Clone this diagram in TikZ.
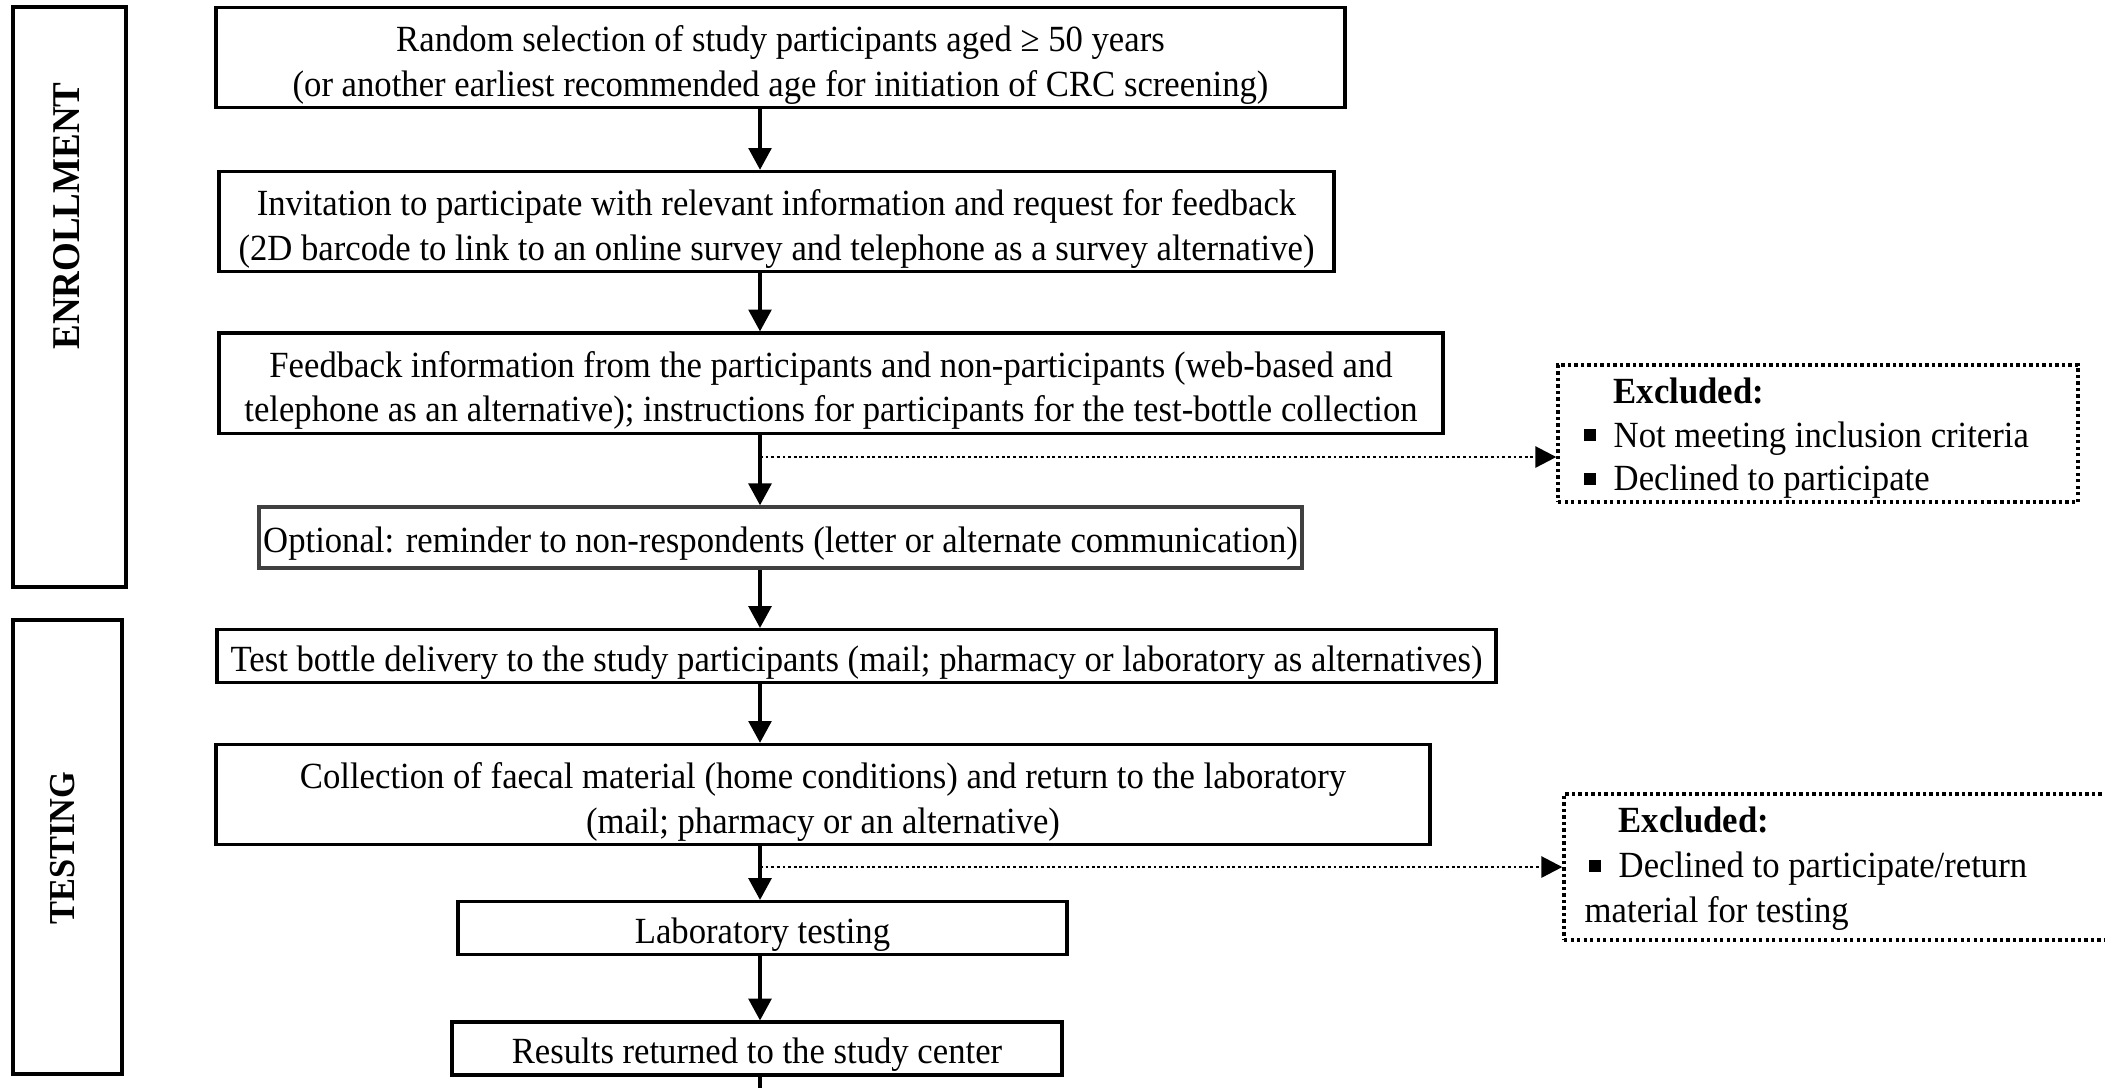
\documentclass[tikz,border=0pt]{standalone}
\usepackage{fontspec}
\setmainfont{Liberation Serif}[FakeStretch=0.94]
\usetikzlibrary{arrows.meta}

\newcommand{\exbul}{\makebox[0.30cm][l]{\raisebox{1.6pt}{\rule{3.4pt}{3.4pt}}}}
\newcommand{\topstrut}{\rule{0pt}{0.41cm}}

\tikzset{
  stepbox/.style={draw, line width=0.9pt, align=center, inner sep=1pt, font=\fontsize{10.5}{12.6}\selectfont,
    execute at begin node={\rule{0pt}{0.38cm}}},
  phasebox/.style={draw, line width=1.1pt},
  phaselabel/.style={rotate=90, font=\fontsize{11}{13}\selectfont\bfseries},
  exclbox/.style={draw, line width=0.95pt, dash pattern=on 0.95pt off 0.9pt},
  excltext/.style={anchor=north west, inner sep=0pt, align=flush left, font=\fontsize{10.5}{12.3}\selectfont},
  arr/.style={-{Triangle[length=6.2pt,width=6.5pt]}, line width=0.9pt},
  darr/.style={dash pattern=on 0.8pt off 0.8pt, line width=0.8pt, -{Triangle[length=6pt,width=6pt]}}
}

\begin{document}
\begin{tikzpicture}
    \clip (0,0) rectangle (21.05,-10.87);

    % Phase boxes on the left
    \node[phasebox, minimum width=1.13cm, minimum height=5.80cm] (enr) at (0.695,-2.97) {};
    \node[phasebox, minimum width=1.09cm, minimum height=4.54cm] (tst) at (0.675,-8.47) {};
    \node[phaselabel, font=\fontsize{11.2}{13}\selectfont\bfseries] (enrlab) at (0.67,-2.16) {ENROLLMENT};
    \node[phaselabel, font=\fontsize{10.4}{13}\selectfont\bfseries] (tstlab) at (0.63,-8.48) {TESTING};

    % Main steps
    \node[stepbox, minimum width=11.29cm, minimum height=0.99cm] (rand) at (7.805,-0.575)
        {\topstrut Random selection of study participants aged ≥ 50 years\\ (or another earliest recommended age for initiation of CRC screening)};
    \node[stepbox, minimum width=11.15cm, minimum height=0.97cm] (invit) at (7.765,-2.215)
        {\topstrut Invitation to participate with relevant information and request for feedback\\(2D barcode to link to an online survey and telephone as a survey alternative)};
    \node[stepbox, minimum width=12.24cm, minimum height=0.98cm] (feed) at (8.31,-3.83)
        {\topstrut Feedback information from the participants and non-participants (web-based and\\telephone as an alternative); instructions for participants for the test-bottle collection};
    \node[stepbox, draw=black!75, line width=1pt, minimum width=10.43cm, minimum height=0.61cm] (opt) at (7.805,-5.375)
        {Optional: reminder to non-respondents (letter or alternate communication)};
    \node[stepbox, minimum width=12.79cm, minimum height=0.50cm] (bottle) at (8.565,-6.56)
        {Test bottle delivery to the study participants (mail; pharmacy or laboratory as alternatives)};
    \node[stepbox, minimum width=12.14cm, minimum height=0.97cm] (coll) at (8.23,-7.945)
        {\topstrut Collection of faecal material (home conditions) and return to the laboratory\\(mail; pharmacy or an alternative)};
    \node[stepbox, minimum width=6.09cm, minimum height=0.50cm] (lab) at (7.625,-9.28)
        {Laboratory testing};
    \node[stepbox, minimum width=6.10cm, minimum height=0.51cm] (res) at (7.57,-10.485)
        {Results returned to the study center};

    % Exclusion boxes
    \node[exclbox, minimum width=5.20cm, minimum height=1.37cm] (exa) at (18.18,-4.335) {};
    \node[excltext] (exatext) at (15.83,-3.775)
        {\hspace*{0.30cm}\textbf{Excluded:}\\ \exbul Not meeting inclusion criteria\\ \exbul Declined to participate};
    \node[exclbox, minimum width=5.60cm, minimum height=1.46cm] (exb) at (18.44,-8.67) {};
    \node[excltext, font=\fontsize{10.5}{12.8}\selectfont] (exbtext) at (15.84,-8.065)
        {\hspace*{0.34cm}\textbf{Excluded:}\\ \hspace*{0.04cm}\exbul Declined to participate/return\\ material for testing};

    % Spine
    \coordinate (sp) at (7.60,0);
    \coordinate (bot) at (7.60,-11.2);
    \coordinate (bra) at (7.60,-4.57);
    \coordinate (brb) at (7.60,-8.67);

    % Arrows
    \draw[arr] (rand.south -| sp) -- (invit.north -| sp);
    \draw[arr] (invit.south -| sp) -- (feed.north -| sp);
    \draw[arr] (feed.south -| sp) -- (opt.north -| sp);
    \draw[arr] (opt.south -| sp) -- (bottle.north -| sp);
    \draw[arr] (bottle.south -| sp) -- (coll.north -| sp);
    \draw[arr] (coll.south -| sp) -- (lab.north -| sp);
    \draw[arr] (lab.south -| sp) -- (res.north -| sp);
    \draw[line width=0.9pt] (res.south -| sp) -- (bot);

    % Dotted branches to the exclusions
    \draw[darr] (bra) -- (bra -| exa.west);
    \draw[darr] (brb) -- (brb -| exb.west);

\end{tikzpicture}
\end{document}
